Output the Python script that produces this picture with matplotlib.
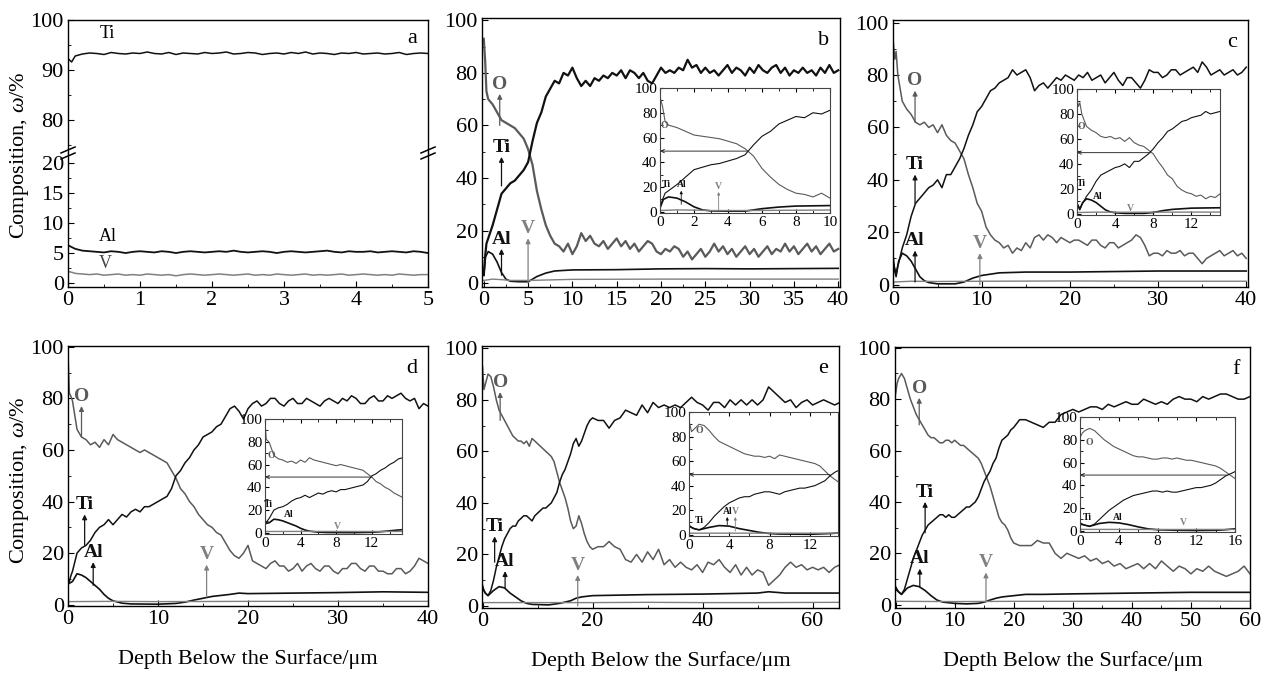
import numpy as np
import matplotlib
matplotlib.use('Agg')
import matplotlib.pyplot as plt
from matplotlib.ticker import MultipleLocator

plt.rcParams.update({
    'font.family': ['Liberation Serif', 'DejaVu Serif'],
    'mathtext.fontset': 'custom',
    'mathtext.rm': 'Liberation Serif',
    'mathtext.it': 'Liberation Serif:italic',
    'axes.linewidth': 1.0,
    'xtick.direction': 'in', 'ytick.direction': 'in',
})

# ---------------- data ----------------
# panel a (depth 0-5 um)
depth_a = np.concatenate([[0, 0.05], np.arange(0.1, 5.001, 0.1)])
ti_a = [92.3, 91.6, 92.8, 93.2, 93.4, 93.3, 93.1, 93.5, 93.3, 93.2, 93.4, 93.3, 93.6, 93.3, 93.2, 93.5,
        93.1, 93.4, 93.3, 93.2, 93.5, 93.3, 93.4, 93.6, 93.2, 93.3, 93.5, 93.4, 93.1, 93.3, 93.4, 93.2,
        93.5, 93.3, 93.6, 93.2, 93.4, 93.3, 93.1, 93.4, 93.3, 93.5, 93.2, 93.3, 93.4, 93.2, 93.3, 93.5,
        93.1, 93.3, 93.4, 93.3]
al_a = [6.3, 6.0, 5.7, 5.4, 5.3, 5.2, 5.1, 5.3, 5.2, 5.0, 5.2, 5.3, 5.2, 5.1, 5.3, 5.2, 5.0, 5.2,
        5.3, 5.2, 5.1, 5.2, 5.3, 5.2, 5.4, 5.2, 5.1, 5.2, 5.3, 5.2, 5.0, 5.2, 5.3, 5.2, 5.1, 5.2,
        5.3, 5.4, 5.2, 5.1, 5.3, 5.2, 5.2, 5.3, 5.1, 5.2, 5.3, 5.2, 5.1, 5.3, 5.2, 5.0]
v_a = [1.9, 1.8, 1.6, 1.5, 1.4, 1.5, 1.3, 1.4, 1.5, 1.3, 1.4, 1.3, 1.5, 1.4, 1.3, 1.4, 1.2, 1.4,
       1.5, 1.4, 1.3, 1.4, 1.5, 1.4, 1.3, 1.4, 1.5, 1.3, 1.4, 1.3, 1.5, 1.4, 1.3, 1.4, 1.5, 1.3,
       1.4, 1.3, 1.4, 1.5, 1.3, 1.4, 1.5, 1.4, 1.3, 1.4, 1.3, 1.5, 1.4, 1.3, 1.4, 1.4]

# panel b (0-40 um)
depth_b = np.concatenate([[0, 0.15, 0.3], np.arange(0.5, 40.001, 0.5)])
ti_b = [3, 10, 15,
        17, 22, 28, 34, 36, 38, 39, 41, 43, 46, 54, 61, 65, 71, 74, 77, 76, 80, 79, 82,
        78, 75, 77, 75, 78, 77, 79, 78, 80, 79, 81, 78, 81, 80, 78, 80, 77, 76, 79, 82,
        80, 81, 80, 82, 81, 85, 82, 83, 80, 82, 80, 81, 79, 81, 83, 80, 82, 81, 79, 82,
        80, 83, 81, 80, 82, 83, 80, 82, 79, 81, 80, 82, 80, 81, 79, 82, 80, 83, 80, 81]
o_b = [93, 85, 73,
       70, 68, 65, 62, 61, 60, 59, 57, 55, 51, 45, 35, 28, 22, 18, 15, 14, 12, 15, 11,
       14, 19, 16, 18, 15, 14, 16, 13, 15, 17, 14, 16, 13, 15, 12, 14, 16, 15, 12, 11,
       13, 12, 14, 13, 10, 12, 9, 11, 13, 10, 12, 15, 12, 14, 11, 13, 10, 12, 14, 11,
       13, 10, 12, 14, 11, 13, 12, 15, 12, 14, 11, 13, 15, 12, 14, 11, 13, 15, 12, 13]
al_b_depth = [0, 0.2, 0.5, 1.0, 1.5, 2.0, 2.5, 3, 4, 5, 5.5, 6, 7, 8, 10, 15, 20, 25, 30, 40]
al_b = [3, 10, 12, 11, 8, 4, 1.5, 0.7, 0.5, 0.5, 1.5, 2.5, 3.8, 4.6, 5.0, 5.1, 5.4, 5.5, 5.4, 5.6]
v_b_depth = [0, 1, 2, 3, 5, 10, 20, 30, 40]
v_b = [1.0, 1.5, 1.3, 1.0, 1.0, 1.4, 1.5, 1.5, 1.5]

# panel c (0-40 um)
depth_c = np.concatenate([[0, 0.15, 0.3], np.arange(0.5, 40.001, 0.5)])
ti_c = [10, 5, 3,
        7, 14, 19, 26, 31, 33, 35, 37, 38, 40, 37, 42, 42, 45, 48, 52, 57, 61, 66, 68,
        71, 74, 75, 77, 78, 79, 82, 80, 81, 82, 79, 74, 76, 77, 75, 77, 79, 78, 80, 79,
        78, 80, 79, 81, 78, 79, 80, 77, 79, 81, 78, 76, 79, 79, 77, 75, 78, 82, 81, 81,
        79, 80, 82, 82, 80, 81, 82, 83, 81, 85, 83, 80, 81, 82, 80, 81, 82, 80, 81, 83]
o_c = [92, 86, 89,
       80, 70, 67, 65, 62, 61, 62, 60, 61, 58, 61, 57, 55, 54, 51, 48, 42, 37, 31, 28,
       22, 19, 17, 16, 14, 15, 12, 14, 13, 16, 14, 18, 19, 17, 19, 18, 16, 18, 17, 16,
       17, 17, 16, 15, 17, 17, 15, 14, 16, 16, 14, 15, 16, 17, 19, 18, 15, 11, 12, 12,
       11, 13, 12, 12, 13, 11, 12, 12, 10, 8, 10, 11, 12, 13, 11, 12, 13, 11, 12, 10]
al_c_depth = [0, 0.3, 0.6, 1, 1.5, 2, 2.5, 3, 3.5, 4, 5, 7, 8, 9, 10, 12, 15, 20, 30, 40]
al_c = [8, 4, 9, 12, 11, 9, 6, 3, 1.5, 0.8, 0.3, 0.3, 1.0, 2.5, 3.5, 4.5, 4.8, 4.8, 5.2, 5.2]
v_c_depth = [0, 2, 5, 10, 20, 30, 40]
v_c = [1.0, 1.3, 1.2, 1.3, 1.4, 1.3, 1.3]

# panel d (0-40 um)
depth_d = np.concatenate([[0, 0.15, 0.3], np.arange(0.5, 40.001, 0.5)])
ti_d = [8, 9, 11,
        13, 20, 22, 23, 25, 28, 30, 31, 33, 31, 33, 35, 34, 36, 37, 36, 38, 38, 39, 40,
        41, 42, 45, 50, 52, 55, 57, 60, 62, 65, 66, 67, 69, 70, 73, 76, 77, 75, 72, 76,
        78, 79, 77, 78, 80, 80, 78, 77, 79, 80, 78, 78, 80, 79, 78, 77, 79, 80, 79, 78,
        80, 79, 81, 80, 78, 78, 80, 81, 79, 79, 81, 80, 81, 82, 80, 79, 80, 76, 78, 77]
o_d = [97, 82, 81,
       79, 68, 65, 64, 62, 63, 61, 64, 62, 66, 64, 63, 62, 61, 60, 59, 60, 59, 58, 57,
       56, 55, 52, 49, 45, 43, 40, 38, 35, 33, 31, 30, 28, 27, 24, 21, 19, 18, 20, 23,
       17, 16, 15, 14, 16, 17, 15, 15, 13, 14, 16, 13, 15, 16, 14, 13, 15, 15, 13, 12,
       14, 14, 16, 16, 14, 13, 15, 15, 13, 13, 12, 12, 14, 14, 12, 13, 15, 18, 17, 16]
al_d_depth = [0, 0.5, 1, 1.5, 2, 2.5, 3, 3.5, 4, 4.5, 5, 6, 7, 10, 12, 13, 14, 15, 16, 18, 19, 20, 25, 30, 35, 40]
al_d = [8, 9, 12, 11.5, 10.5, 9, 7.5, 6, 4, 2.5, 1.5, 0.6, 0.3, 0.2, 0.5, 1, 1.8, 2.5, 3.2, 4, 4.5, 4.3, 4.5, 4.7, 5, 4.8]
v_d_depth = [0, 5, 10, 20, 30, 40]
v_d = [1.2, 1.3, 1.2, 1.3, 1.3, 1.3]

# panel e (0-65 um)
depth_e = np.concatenate([[0, 0.25], np.arange(0.5, 20.001, 0.5), np.arange(21, 65.001, 1)])
ti_e = [8, 6,
        5, 4, 6, 10, 15, 19, 23, 26, 28, 30, 31, 31, 33, 34, 35, 35, 34, 33, 35, 36,
        37, 38, 38, 39, 40, 42, 44, 48, 51, 53, 56, 59, 63, 65, 62, 64, 67, 70, 72, 73,
        72, 72, 69, 72, 73, 76, 75, 74, 78, 75, 79, 77, 78, 77, 78, 77, 79, 81, 79, 78,
        76, 79, 79, 77, 80, 78, 80, 78, 80, 78, 80, 85, 83, 81, 79, 80, 77, 79, 80, 78,
        79, 80, 79, 78, 79]
o_e = [93, 84,
       86, 90, 89, 85, 80, 76, 74, 72, 70, 68, 66, 65, 64, 64, 63, 64, 62, 65, 64, 63,
       62, 61, 60, 59, 58, 56, 52, 48, 45, 42, 38, 33, 30, 31, 35, 32, 28, 25, 23, 22,
       23, 23, 25, 23, 22, 18, 17, 20, 17, 21, 18, 22, 16, 18, 15, 17, 15, 14, 16, 13,
       17, 16, 18, 15, 13, 16, 12, 15, 12, 14, 13, 8, 10, 12, 15, 17, 15, 16, 14, 15,
       14, 15, 13, 15, 16]
al_e_depth = [0, 0.5, 1, 2, 3, 4, 5, 6, 7, 8, 9, 12, 14, 16, 17, 18, 20, 25, 30, 40, 50, 52, 55, 60, 65]
al_e = [7, 5, 4, 6, 7.5, 7, 5, 3.5, 2, 1, 0.6, 0.4, 1, 2, 3, 3.5, 4, 4.2, 4.4, 4.6, 5, 5.5, 5, 5, 5]
v_e_depth = [0, 10, 20, 30, 40, 50, 65]
v_e = [1.3, 1.3, 1.3, 1.4, 1.3, 1.3, 1.4]

# panel f (0-60 um)
depth_f = np.concatenate([[0, 0.25], np.arange(0.5, 20.001, 0.5), np.arange(21, 60.001, 1)])
ti_f = [7, 6,
        5, 4, 6, 10, 14, 18, 21, 24, 27, 29, 31, 32, 33, 34, 35, 35, 34, 35, 34, 34,
        35, 36, 37, 38, 38, 39, 40, 42, 45, 48, 50, 52, 55, 57, 61, 64, 65, 66, 68, 69,
        72, 72, 71, 70, 69, 71, 71, 74, 75, 76, 75, 76, 77, 77, 76, 78, 77, 78, 79, 78,
        78, 80, 79, 78, 79, 78, 80, 81, 80, 80, 79, 81, 80, 81, 82, 82, 81, 80, 80, 81]
o_f = [82, 86,
       88, 90, 88, 84, 80, 77, 74, 72, 70, 68, 66, 65, 65, 64, 63, 63, 64, 64, 63, 64,
       63, 62, 62, 61, 60, 59, 58, 57, 55, 52, 49, 46, 42, 38, 34, 32, 31, 29, 26, 24,
       23, 23, 23, 25, 24, 24, 20, 18, 20, 19, 18, 19, 17, 18, 16, 17, 15, 16, 14, 15,
       16, 14, 16, 14, 17, 15, 13, 15, 14, 12, 14, 13, 15, 13, 12, 11, 12, 13, 15, 12]
al_f_depth = [0, 0.5, 1, 2, 3, 4, 5, 6, 7, 8, 10, 12, 14, 15, 16, 17, 18, 20, 22, 25, 30, 40, 50, 60]
al_f = [6, 5, 4, 6.5, 7.5, 7, 5.5, 3.5, 1.8, 1, 0.5, 0.3, 0.5, 1, 1.8, 2.5, 3, 3.5, 4, 4, 4.2, 4.5, 4.8, 4.8]
v_f_depth = [0, 10, 20, 30, 40, 50, 60]
v_f = [1.3, 1.2, 1.3, 1.3, 1.3, 1.4, 1.3]

# ---------------- styling ----------------
W, H = 1269, 673
C_TI, C_O, C_AL, C_V = '#111111', '#5a5a5a', '#111111', '#808080'
FS, FS_IN = 16, 11
YLABEL = 'Composition, $\\omega$/%'

fig = plt.figure(figsize=(W / 100, H / 100), dpi=100)


def rect(l, t, r, b):
    return [l / W, 1 - b / H, (r - l) / W, (b - t) / H]


def prep(ax, xmaj, xmin, ymaj, ymin, fs):
    ax.xaxis.set_major_locator(MultipleLocator(xmaj))
    ax.xaxis.set_minor_locator(MultipleLocator(xmin))
    ax.yaxis.set_major_locator(MultipleLocator(ymaj))
    ax.yaxis.set_minor_locator(MultipleLocator(ymin))
    ax.tick_params(which='major', length=4, labelsize=fs, pad=3)
    ax.tick_params(which='minor', length=2)


def cut(x, y):
    n = min(len(x), len(y))
    return np.asarray(x)[:n], np.asarray(y)[:n]


def draw(ax, dep, ti, o, ald, al, vd, v, lw):
    ax.plot(*cut(dep, o), color=C_O, lw=lw)
    ax.plot(*cut(dep, ti), color=C_TI, lw=lw)
    ax.plot(*cut(ald, al), color=C_AL, lw=1.2)
    ax.plot(*cut(vd, v), color=C_V, lw=1.0)


def label(ax, txt, x, y0, y1, color, fs=14, bold=True):
    ax.annotate('', xy=(x, y1), xytext=(x, y0),
                arrowprops=dict(arrowstyle='-|>', color=color, lw=0.9, mutation_scale=7,
                                shrinkA=0, shrinkB=0))
    ax.text(x, y1 + 0.5, txt, color=color, fontsize=fs, ha='center', va='bottom',
            fontweight='bold' if bold else 'normal')


def inset_label(ax, txt, x, y, color, y0=None, y1=None):
    if y0 is not None:
        ax.annotate('', xy=(x, y1), xytext=(x, y0),
                    arrowprops=dict(arrowstyle='-|>', color=color, lw=0.6, mutation_scale=4,
                                    shrinkA=0, shrinkB=0))
    ax.text(x, y, txt, color=color, fontsize=7, ha='center', va='bottom', fontweight='bold')


# ---------------- panel a (broken axis) ----------------
ax_au = fig.add_axes(rect(68, 20, 428, 153))
ax_al = fig.add_axes(rect(68, 153, 428, 287))
ax_au.plot(*cut(depth_a, ti_a), color=C_TI, lw=1.1)
ax_al.plot(*cut(depth_a, al_a), color=C_AL, lw=1.3)
ax_al.plot(*cut(depth_a, v_a), color=C_V, lw=1.1)
ax_au.set_xlim(0, 5); ax_al.set_xlim(0, 5)
ax_au.set_ylim(73.4, 100); ax_al.set_ylim(-0.67, 21.7)
prep(ax_au, 1, 0.5, 10, 5, FS)
prep(ax_al, 1, 0.5, 5, 2.5, FS)
ax_au.spines['bottom'].set_visible(False)
ax_al.spines['top'].set_visible(False)
ax_au.tick_params(axis='x', which='both', bottom=False, labelbottom=False)
ax_au.set_yticks([80, 90, 100])
ax_al.set_yticks([0, 5, 10, 15, 20])
ax_au.text(0.55, 95.5, 'Ti', fontsize=13, ha='center', va='bottom')
ax_au.text(0.97, 0.93, 'a', transform=ax_au.transAxes, fontsize=FS, ha='right', va='top')
ax_al.text(0.55, 6.3, 'Al', fontsize=13, ha='center', va='bottom')
ax_al.text(0.52, 1.9, 'V', fontsize=13, ha='center', va='bottom', color='#444444')
for px in (68, 428):
    for off in (-3, 3):
        fig.add_artist(plt.Line2D([(px - 7) / W, (px + 7) / W],
                                  [1 - (153 + off + 3) / H, 1 - (153 + off - 3) / H],
                                  color='black', lw=1.1))
fig.text(20 / W, 1 - 155 / H, YLABEL, rotation=90, fontsize=FS, ha='center', va='center')
fig.text(20 / W, 1 - 480 / H, YLABEL, rotation=90, fontsize=FS, ha='center', va='center')

# ---------------- panels b-f ----------------
panels = {
    'b': dict(r=(482, 18, 840, 287), xl=(-0.2, 40.2), yl=(-1.5, 100.9), xmaj=5, xmin=2.5,
              data=(depth_b, ti_b, o_b, al_b_depth, al_b, v_b_depth, v_b), lw=1.6,
              ir=(660, 88, 830, 213), ixl=(0, 10), ixmaj=2, ixmin=1, cross=5.1),
    'c': dict(r=(893, 20, 1248, 287), xl=(-0.05, 40.2), yl=(-0.9, 101), xmaj=10, xmin=5,
              data=(depth_c, ti_c, o_c, al_c_depth, al_c, v_c_depth, v_c), lw=1.1,
              ir=(1077, 89, 1220, 215), ixl=(0, 15), ixmaj=4, ixmin=2, cross=7.7),
    'd': dict(r=(68, 346, 428, 606), xl=(0, 40), yl=(-0.5, 100.3), xmaj=10, xmin=5,
              data=(depth_d, ti_d, o_d, al_d_depth, al_d, v_d_depth, v_d), lw=1.1,
              ir=(265, 419, 402, 534), ixl=(0, 15.4), ixmaj=4, ixmin=2, cross=12.0),
    'e': dict(r=(482, 346, 839, 608), xl=(-0.1, 64.8), yl=(-0.8, 100.9), xmaj=20, xmin=10,
              data=(depth_e, ti_e, o_e, al_e_depth, al_e, v_e_depth, v_e), lw=1.1,
              ir=(689, 412, 838, 536), ixl=(0, 14.8), ixmaj=4, ixmin=2, cross=14.0),
    'f': dict(r=(895, 347, 1250, 608), xl=(-0.1, 60), yl=(-1.3, 100.3), xmaj=10, xmin=5,
              data=(depth_f, ti_f, o_f, al_f_depth, al_f, v_f_depth, v_f), lw=1.1,
              ir=(1080, 417, 1235, 532), ixl=(0, 16), ixmaj=4, ixmin=2, cross=15.2),
}

main_labels = {
    'b': [('O', 1.8, 60, 72, C_O), ('Ti', 2.0, 37, 48, C_TI), ('Al', 2.0, 3, 13, C_TI), ('V', 5.0, 0, 17, C_V)],
    'c': [('O', 2.45, 62, 74, C_O), ('Ti', 2.45, 31, 42, C_TI), ('Al', 2.45, 1, 13, C_TI), ('V', 9.8, 0, 12, C_V)],
    'd': [('O', 1.5, 65, 77, C_O), ('Ti', 1.85, 23, 35, C_TI), ('Al', 2.8, 7.5, 16.5, C_TI), ('V', 15.4, 3, 15.5, C_V)],
    'e': [('O', 3.2, 72, 83, C_O), ('Ti', 2.2, 17, 27, C_TI), ('Al', 4.1, 7, 13.5, C_TI), ('V', 17.3, 0, 12, C_V)],
    'f': [('O', 4.0, 70, 80.5, C_O), ('Ti', 5.0, 28, 40, C_TI), ('Al', 4.1, 7, 14, C_TI), ('V', 15.3, 1, 12.5, C_V)],
}

inset_labels = {
    'b': [('O', 0.25, 66, C_O, None, None), ('Ti', 0.35, 18, C_TI, None, None),
          ('Al', 1.25, 18, C_TI, 6, 17), ('V', 3.45, 17, C_V, 1, 16)],
    'c': [('O', 0.4, 66, C_O, None, None), ('Ti', 0.45, 21, C_TI, None, None),
          ('Al', 2.2, 10, C_TI, None, None), ('V', 5.6, 1, C_V, None, None)],
    'd': [('O', 0.7, 64, C_O, None, None), ('Ti', 0.35, 21, C_TI, None, None),
          ('Al', 2.7, 12, C_TI, None, None), ('V', 8.1, 2, C_V, None, None)],
    'e': [('O', 1.0, 81, C_O, None, None), ('Ti', 1.0, 8, C_TI, None, None),
          ('Al', 3.8, 15, C_TI, 8, 14.5), ('V', 4.6, 15, C_V, 3, 14.5)],
    'f': [('O', 1.0, 74, C_O, None, None), ('Ti', 0.8, 8, C_TI, None, None),
          ('Al', 3.9, 8, C_TI, None, None), ('V', 10.7, 3, C_V, None, None)],
}

for key, p in panels.items():
    ax = fig.add_axes(rect(*p['r']))
    draw(ax, *p['data'], lw=p['lw'])
    ax.set_xlim(*p['xl']); ax.set_ylim(*p['yl'])
    prep(ax, p['xmaj'], p['xmin'], 20, 10, FS)
    ax.text(0.97, 0.95, key, transform=ax.transAxes, fontsize=FS, ha='right', va='top')
    for txt, x, y0, y1, col in main_labels[key]:
        label(ax, txt, x, y0, y1, col)
    if key in ('d', 'e', 'f'):
        ax.set_xlabel('Depth Below the Surface/\u03bcm', fontsize=FS, labelpad=14)

    ins = fig.add_axes(rect(*p['ir']))
    draw(ins, *p['data'], lw=0.8)
    ins.set_xlim(*p['ixl']); ins.set_ylim(-1, 100)
    prep(ins, p['ixmaj'], p['ixmin'], 20, 10, FS_IN)
    ins.tick_params(which='major', length=3, pad=2)
    ins.tick_params(top=True, which='both')
    for sp in ins.spines.values():
        sp.set_color('#444444'); sp.set_linewidth(0.8)
    ins.annotate('', xy=(0, 49), xytext=(p['cross'], 49),
                 arrowprops=dict(arrowstyle='->', color='#333333', lw=0.7,
                                 mutation_scale=6, shrinkA=0, shrinkB=0))
    for txt, x, y, col, a0, a1 in inset_labels[key]:
        inset_label(ins, txt, x, y, col, a0, a1)

fig.savefig('out.png', dpi=100)
